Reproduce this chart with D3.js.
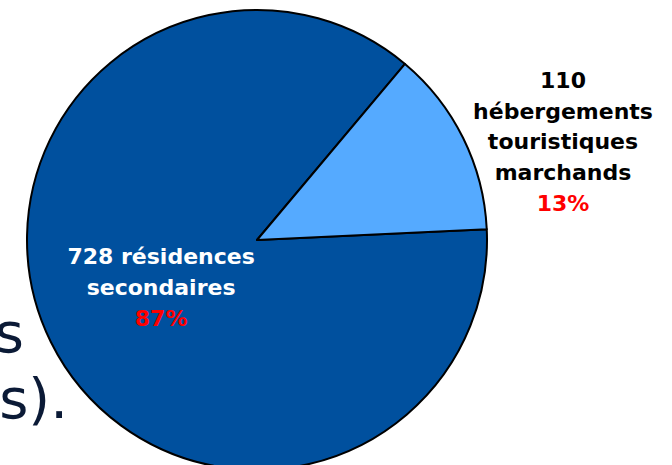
<!DOCTYPE html>
<html>
<head>
<meta charset="utf-8">
<script src="https://cdn.jsdelivr.net/npm/d3@7"></script>
<style>
  body { margin: 0; background: #fff; }
  svg { display: block; }
</style>
</head>
<body>
<div id="chart-area"></div>
<script>
// data
var categories = ["résidences secondaires", "hébergements touristiques marchands"]
var values = [728, 110]
var percents = ["87%", "13%"]
var colors = ["#00509E", "#55AAFF"]
var bgLines = ["s", "es)."]

var cw = 672
var ch = 465
var cx = 257
var cy = 240
var radius = 230

var svg = d3.select("#chart-area").append("svg")
    .attr("width", cw)
    .attr("height", ch)

// leftover slide text behind the pie
svg.selectAll(".bg-text")
    .data(bgLines)
    .enter()
    .append("text")
    .attr("class", "bg-text")
    .attr("x", (d, i) => i == 0 ? 24 : 68)
    .attr("y", (d, i) => 352 + i * 66)
    .attr("text-anchor", "end")
    .attr("font-family", "DejaVu Sans, Verdana, sans-serif")
    .attr("font-size", "56px")
    .attr("fill", "#0b1a36")
    .text(d => d)

var g = svg.append("g").attr("transform", "translate(" + cx + ", " + cy + ")")

var pie = d3.pie()
    .sort(null)
    .startAngle(87.3 * Math.PI / 180)
    .endAngle(87.3 * Math.PI / 180 + 2 * Math.PI)

var arc = d3.arc().innerRadius(0).outerRadius(radius)
var labelArc = d3.arc().innerRadius(107).outerRadius(107)

var arcs = pie(values)

g.selectAll("path")
    .data(arcs)
    .enter()
    .append("path")
    .attr("d", arc)
    .attr("fill", (d, i) => colors[i])
    .attr("stroke", "#000")
    .attr("stroke-width", 2)
    .attr("stroke-linejoin", "round")

// label lines for each slice
var labels = [
    {lines: ["", "secondaires"], pct: percents[0], fill: "#fff",
     pos: labelArc.centroid(arcs[0]), dy: -23},
    {lines: ["", "hébergements", "touristiques", "marchands"], pct: percents[1], fill: "#000",
     pos: [306, -100], dy: -52}
]
labels[0].lines[0] = values[0] + " " + categories[0].split(" ")[0]
labels[1].lines[0] = String(values[1])

labels.forEach(function (l) {
    var t = g.append("text")
        .attr("text-anchor", "middle")
        .attr("font-family", "DejaVu Sans, Verdana, sans-serif")
        .attr("font-weight", "bold")
        .attr("font-size", "22px")
    var all = l.lines.concat([l.pct])
    all.forEach(function (s, i) {
        t.append("tspan")
            .attr("x", l.pos[0])
            .attr("y", l.pos[1] + l.dy + i * 30.7)
            .attr("fill", i == all.length - 1 ? "#FF0000" : l.fill)
            .text(s)
    })
})
</script>
</body>
</html>
